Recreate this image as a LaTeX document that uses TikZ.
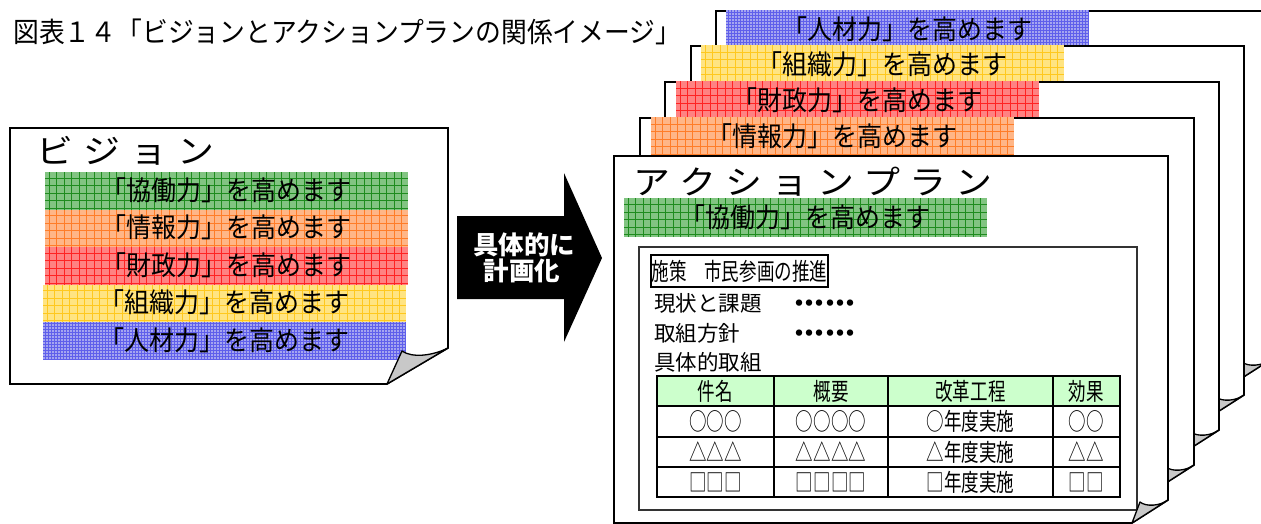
\documentclass[tikz,border=0pt]{standalone}
\usepackage{fontspec}
\setmainfont{Noto Sans CJK JP}
\usepackage{graphicx}
\definecolor{gF}{RGB}{130,196,130}
\definecolor{gL}{RGB}{30,140,30}
\definecolor{oF}{RGB}{255,182,135}
\definecolor{oL}{RGB}{255,125,40}
\definecolor{rF}{RGB}{255,130,130}
\definecolor{rL}{RGB}{255,35,35}
\definecolor{yF}{RGB}{255,228,130}
\definecolor{yL}{RGB}{255,200,30}
\definecolor{bF}{RGB}{165,165,240}
\definecolor{bL}{RGB}{95,95,235}
\definecolor{hdr}{RGB}{204,255,204}
\definecolor{flapgray}{RGB}{200,200,200}
\newcommand\fs[1]{\fontsize{#1}{#1}\selectfont}
\newcommand\cnd[1]{\scalebox{0.73}[1]{#1}}
\newcommand\tall[1]{\scalebox{1}[1.08]{#1}}
\newcommand\wc[1]{\makebox[47pt][l]{\scalebox{1.12}[1]{#1}}}
\newcommand\wa[1]{\makebox[46pt][l]{\scalebox{1.12}[1]{#1}}}
\newcommand\dt{\makebox[10.3pt][c]{・}}
\newcommand\docpage[4]{\draw[pageline] (#1,#2) -- (#3,#2) -- (#3,{#4-23}) -- ({#3-36},#4) -- (#1,#4) -- cycle;}
\newcommand\docflap[2]{\draw[flap] ({#1-36},#2) -- ({#1-28},{#2-21}) .. controls ({#1-22},{#2-16}) and ({#1-8},{#2-17}) .. (#1,{#2-23}) -- cycle;}
\begin{document}
\begin{tikzpicture}[x=1pt,y=-1pt,
  fsz/.style={font=\fs{#1}, text height={0.88*#1pt}, text depth={0.12*#1pt}},
  txt/.style={inner sep=0pt},
  pageline/.style={draw=black, line width=1.7pt, fill=white, line join=miter},
  flap/.style={draw=black, line width=1.3pt, fill=flapgray, line join=round},
  band/.style n args={3}{anchor=north west, inner sep=0pt, minimum width=363pt,
    minimum height=37.5pt, fill=#1, fsz=25,
    path picture={\draw[draw=#2, line width=0.6pt, step=#3] (path picture bounding box.south west) grid (path picture bounding box.north east);}},
  cell/.style={draw=black, line width=1.8pt, inner sep=0pt, fsz=24},
  body/.style={txt, anchor=west, fsz=21.5}
]
\useasboundingbox (0,0) rectangle (1261,524);
\fill[white] (0,0) rectangle (1261,524);

% title
\node[txt, anchor=west, fsz=25.8] (title) at (13,33) {\tall{図表１４「ビジョンとアクションプランの関係イメージ」}};

% vision page
\draw[pageline] (10,128) -- (448,128) -- (448,348) -- (387,384) -- (10,384) -- cycle;
\node[txt, anchor=west, fsz=33] (vtitle) at (36,151) {\wc{ビ}\wc{ジ}\wc{ョ}\wc{ン}};
\node[band={gF}{gL}{7.5pt}] (v1) at (45,172) {\tall{「協働力」を高めます}};
\node[band={oF}{oL}{7.5pt}] (v2) at (45,209.5) {\tall{「情報力」を高めます}};
\node[band={rF}{rL}{7.5pt}] (v3) at (45,247) {\tall{「財政力」を高めます}};
\node[band={yF}{yL}{7.5pt}] (v4) at (43,284.5) {\tall{「組織力」を高めます}};
\node[band={bF}{bL}{3pt}] (v5) at (43,322) {\tall{「人材力」を高めます}};
\draw[flap] (387,384) -- (402,351) .. controls (412,358) and (432,356) .. (448,348) -- cycle;

% arrow
\fill[black] (457,216) -- (564,216) -- (564,173) -- (602,258) -- (564,342) -- (564,299) -- (457,299) -- cycle;
\node[txt, fsz=25.5, font=\fs{25.5}\bfseries, text=white] (ar1) at (524,245) {具体的に};
\node[txt, fsz=25.5, font=\fs{25.5}\bfseries, text=white] (ar2) at (522,271) {計画化};

% action pages (back to front)
\docpage{716}{11}{1270}{383}
\node[band={bF}{bL}{3pt}, minimum height=40pt] (a5) at (726,10) {\tall{「人材力」を高めます}};
\docflap{1270}{383}

\docpage{691}{46}{1244}{418}
\node[band={yF}{yL}{7.5pt}, minimum height=40pt] (a4) at (701,45) {\tall{「組織力」を高めます}};
\docflap{1244}{418}

\docpage{665}{82}{1219}{453}
\node[band={rF}{rL}{7.5pt}, minimum height=40pt] (a3) at (676,81) {\tall{「財政力」を高めます}};
\docflap{1219}{453}

\docpage{640}{118}{1194}{488}
\node[band={oF}{oL}{7.5pt}, minimum height=40pt] (a2) at (651,117) {\tall{「情報力」を高めます}};
\docflap{1194}{488}

\docpage{614}{156}{1168}{523}
\node[txt, anchor=west, fsz=33] (atitle) at (633,182) {\wa{ア}\wa{ク}\wa{シ}\wa{ョ}\wa{ン}\wa{プ}\wa{ラ}\wa{ン}};
\node[band={gF}{gL}{7.5pt}, minimum height=39pt] (a1) at (624,198) {\tall{「協働力」を高めます}};

% inner sheet
\draw[draw=black!80, line width=1.2pt] (639,247) rectangle (1137,510);
\node[draw=black, line width=2pt, inner sep=0pt, minimum width=177pt, minimum height=32pt,
      fsz=24] (policy) at (739.5,271) {\cnd{施策　市民参画の推進}};
\node[body] (l1) at (654,303) {現状と課題};
\node[body, fsz=30] (d1) at (794,303) {\dt\dt\dt\dt\dt\dt};
\node[body] (l2) at (654,333) {取組方針};
\node[body, fsz=30] (d2) at (794,333) {\dt\dt\dt\dt\dt\dt};
\node[body] (l3) at (654,362) {具体的取組};

% table
\fill[hdr] (657,376) rectangle (1120,406);
\node[cell, minimum width=117pt, minimum height=30pt] (h1) at (715.5,391) {\cnd{件名}};
\node[cell, minimum width=114pt, minimum height=30pt] (h2) at (831,391) {\cnd{概要}};
\node[cell, minimum width=165pt, minimum height=30pt] (h3) at (970.5,391) {\cnd{改革工程}};
\node[cell, minimum width=67pt, minimum height=30pt] (h4) at (1086.5,391) {\cnd{効果}};
\node[cell, minimum width=117pt, minimum height=31pt] (r11) at (715.5,421.5) {\cnd{○○○}};
\node[cell, minimum width=114pt, minimum height=31pt] (r12) at (831,421.5) {\cnd{○○○○}};
\node[cell, minimum width=165pt, minimum height=31pt] (r13) at (970.5,421.5) {\cnd{○年度実施}};
\node[cell, minimum width=67pt, minimum height=31pt] (r14) at (1086.5,421.5) {\cnd{○○}};
\node[cell, minimum width=117pt, minimum height=30pt] (r21) at (715.5,452) {\cnd{△△△}};
\node[cell, minimum width=114pt, minimum height=30pt] (r22) at (831,452) {\cnd{△△△△}};
\node[cell, minimum width=165pt, minimum height=30pt] (r23) at (970.5,452) {\cnd{△年度実施}};
\node[cell, minimum width=67pt, minimum height=30pt] (r24) at (1086.5,452) {\cnd{△△}};
\node[cell, minimum width=117pt, minimum height=30pt] (r31) at (715.5,482) {\cnd{□□□}};
\node[cell, minimum width=114pt, minimum height=30pt] (r32) at (831,482) {\cnd{□□□□}};
\node[cell, minimum width=165pt, minimum height=30pt] (r33) at (970.5,482) {\cnd{□年度実施}};
\node[cell, minimum width=67pt, minimum height=30pt] (r34) at (1086.5,482) {\cnd{□□}};

\docflap{1168}{523}
\end{tikzpicture}
\end{document}
